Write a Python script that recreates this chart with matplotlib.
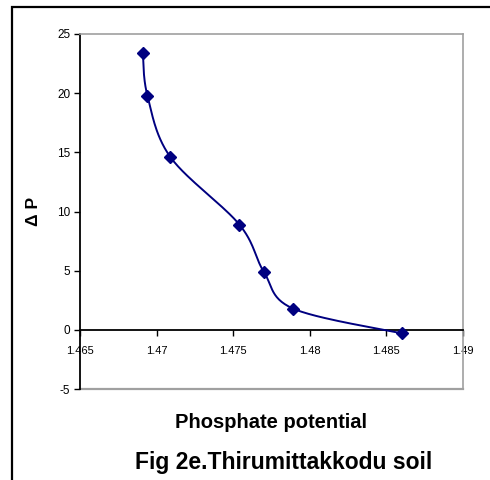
import numpy as np
import matplotlib
matplotlib.use("Agg")
import matplotlib.pyplot as plt
from matplotlib.patches import Rectangle

plt.rcParams["font.family"] = ["Liberation Sans", "DejaVu Sans"]
plt.rcParams["axes.unicode_minus"] = False

# ── Data ─────────────────────────────────────────────────────────────────────
phosphate_potential = [1.4691, 1.4694, 1.4709, 1.4754, 1.4770, 1.4789, 1.4860]
delta_p             = [23.4, 19.8, 14.6, 8.9, 4.9, 1.8, -0.3]

x_ticks = [1.465, 1.47, 1.475, 1.48, 1.485, 1.49]
x_tick_labels = ["1.465", "1.47", "1.475", "1.48", "1.485", "1.49"]
y_ticks = [-5, 0, 5, 10, 15, 20, 25]

XMIN, XMAX = 1.465, 1.49
YMIN, YMAX = -5, 25
NAVY = "#000080"
GRAY = "#a0a0a0"


def excel_smooth(xs, ys, sx, sy, n=30):
    """Bezier smoothing like Excel's 'smoothed line', done in screen-like units."""
    px = (np.asarray(xs) - XMIN) * sx
    py = (np.asarray(ys) - YMIN) * sy
    pts = np.column_stack([px, py])
    out = [pts[0]]
    for i in range(len(pts) - 1):
        p0 = pts[i - 1] if i > 0 else pts[i]
        p1 = pts[i]
        p2 = pts[i + 1]
        p3 = pts[i + 2] if i + 2 < len(pts) else pts[i + 1]
        c1 = p1 + (p2 - p0) / 6.0
        c2 = p2 - (p3 - p1) / 6.0
        t = np.linspace(0, 1, n)[1:, None]
        seg = ((1 - t) ** 3) * p1 + 3 * ((1 - t) ** 2) * t * c1 \
            + 3 * (1 - t) * t ** 2 * c2 + t ** 3 * p2
        out.extend(seg)
    out = np.array(out)
    return out[:, 0] / sx + XMIN, out[:, 1] / sy + YMIN


W, H = 490, 480
fig = plt.figure(figsize=(W / 100, H / 100), dpi=100)

# outer frame (cropped at right/bottom like the reference)
fig.patches.append(Rectangle((12 / W, -0.1), 1.2, (H - 7) / H + 0.1,
                             transform=fig.transFigure, fill=False,
                             edgecolor="black", linewidth=1.6))

left, right, top, bottom = 80, 463, 34, 389
ax = fig.add_axes([left / W, (H - bottom) / H, (right - left) / W, (bottom - top) / H])

sx = (right - left) / (XMAX - XMIN)
sy = (bottom - top) / (YMAX - YMIN)
cx, cy = excel_smooth(phosphate_potential, delta_p, sx, sy)
ax.plot(cx, cy, color=NAVY, linewidth=1.4, zorder=3)
ax.plot(phosphate_potential, delta_p, linestyle="none", marker="D",
        markersize=5.8, color=NAVY, zorder=4)

ax.set_xlim(XMIN, XMAX)
ax.set_ylim(YMIN, YMAX)

ax.spines["bottom"].set_position(("data", 0))
ax.spines["bottom"].set_color("black")
ax.spines["bottom"].set_linewidth(1.3)
ax.spines["left"].set_color("black")
ax.spines["left"].set_linewidth(1.3)
for s in ["top", "right"]:
    ax.spines[s].set_color(GRAY)
    ax.spines[s].set_linewidth(1.2)
ax.axhline(YMIN, color=GRAY, linewidth=1.6, clip_on=False, zorder=1)

ax.set_xticks(x_ticks)
ax.set_xticklabels(x_tick_labels)
ax.set_yticks(y_ticks)
ax.tick_params(axis="x", direction="out", length=4, width=1, pad=8, labelsize=8)
ax.tick_params(axis="y", direction="out", length=4, width=1, pad=3, labelsize=8.5)

ax.set_ylabel("Δ P", fontsize=12.5, fontweight="bold")
ax.yaxis.set_label_coords(-39 / (right - left), 0.5)

fig.text(271 / W, 1 - 422 / H, "Phosphate potential",
         ha="center", va="center", fontsize=14.5, fontweight="bold")
fig.text(284 / W, 1 - 462 / H, "Fig 2e.Thirumittakkodu soil",
         ha="center", va="center", fontsize=16.5, fontweight="bold")

fig.savefig("out.png", dpi=100)
